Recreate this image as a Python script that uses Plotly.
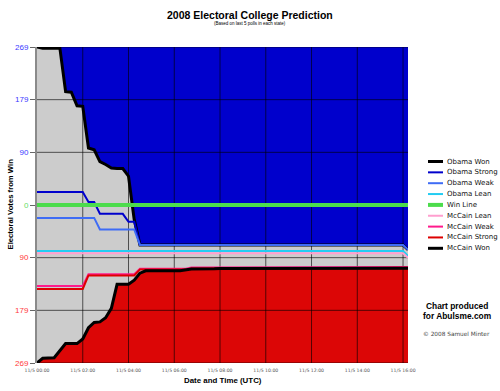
import plotly.graph_objects as go

DAY = "2008-11-05 "

# ---- data (electoral votes from win; Obama side positive, McCain side negative) ----
obama_won_t = ["00:00", "00:15", "01:00", "01:15", "01:30", "01:45", "02:00", "02:15", "02:30",
               "02:45", "03:00", "03:15", "03:30", "03:45", "04:00", "04:15", "04:30", "16:00", "16:13"]
obama_won_v = [269, 267, 267, 193, 192, 169, 168, 97, 94, 74, 69, 63, 62, 62, 49, -25, -68, -68, -76]

obama_strong_t = ["00:00", "02:00", "02:15", "02:30", "02:45", "03:45", "04:00", "04:15", "04:30", "16:00", "16:13"]
obama_strong_v = [22, 22, 5, 5, -15, -15, -28.5, -28.5, -68, -68, -76]

obama_weak_t = ["00:00", "02:30", "02:45", "04:15", "04:30", "16:00", "16:13"]
obama_weak_v = [-22, -22, -41.5, -41.5, -68, -68, -76]

obama_lean_t = ["00:00", "16:00", "16:13"]
obama_lean_v = [-78.5, -78.5, -86.5]

win_t = ["00:00", "16:13"]
win_v = [0, 0]

mccain_lean_t = ["00:00", "16:00", "16:13"]
mccain_lean_v = [-82, -82, -90]

mccain_weak_t = ["00:00", "02:00", "02:15", "04:15", "04:30", "06:30", "06:45", "16:13"]
mccain_weak_v = [-138, -138, -118, -118, -108.5, -108.5, -106.5, -105.5]

mccain_strong_t = ["00:00", "02:00", "02:15", "04:15", "04:30", "06:30", "06:45", "16:13"]
mccain_strong_v = [-143, -143, -120, -120, -110, -110, -108, -107]

mccain_won_t = ["00:00", "00:15", "00:45", "01:00", "01:15", "01:45", "02:00", "02:15", "02:30", "02:45",
                "03:00", "03:15", "03:30", "04:00", "04:15", "04:30", "04:45", "06:15", "06:30", "06:45",
                "07:45", "08:00", "16:13"]
mccain_won_v = [-269, -261, -260, -248, -236, -236, -228, -209, -200, -199,
                -192, -176, -135, -135, -128, -116, -112, -112, -111, -109,
                -108.5, -108, -107.5]

x_tick_times = ["00:00", "02:00", "04:00", "06:00", "08:00", "10:00", "12:00", "14:00", "16:00"]
x_tick_labels = ["11/5 00:00", "11/5 02:00", "11/5 04:00", "11/5 06:00", "11/5 08:00",
                 "11/5 10:00", "11/5 12:00", "11/5 14:00", "11/5 16:00"]
y_tick_vals = [269, 269 * 2 / 3, 269 / 3, 0, -269 / 3, -269 * 2 / 3, -269]
y_tick_labels = ["269", "179", "90", "0", "90", "179", "269"]
y_tick_colors = ["#3a3aff", "#3a3aff", "#3a3aff", "#66dd66", "#ff3a3a", "#ff3a3a", "#ff3a3a"]

series = [
    ("Obama Won", obama_won_t, obama_won_v, "#000000", 3),
    ("Obama Strong", obama_strong_t, obama_strong_v, "#0000cc", 2),
    ("Obama Weak", obama_weak_t, obama_weak_v, "#3f6cf5", 2),
    ("Obama Lean", obama_lean_t, obama_lean_v, "#22ccf2", 2),
    ("Win Line", win_t, win_v, "#4cdc4c", 4),
    ("McCain Lean", mccain_lean_t, mccain_lean_v, "#ff9fcf", 2),
    ("McCain Weak", mccain_weak_t, mccain_weak_v, "#ff1a8c", 2),
    ("McCain Strong", mccain_strong_t, mccain_strong_v, "#dd0000", 2),
    ("McCain Won", mccain_won_t, mccain_won_v, "#000000", 3),
]

X_START = DAY + "00:00"
X_END = DAY + "16:13"
Y_TOP = 269
Y_BOT = -269

def ts(lst):
    return [DAY + t for t in lst]

fig = go.Figure()

# ---- fills ----
fig.add_trace(go.Scatter(x=[X_START, X_END], y=[Y_TOP, Y_TOP], mode="lines",
                         line=dict(width=0), showlegend=False, hoverinfo="skip"))
fig.add_trace(go.Scatter(x=ts(obama_won_t), y=obama_won_v, mode="lines", fill="tonexty",
                         fillcolor="#0000cc", line=dict(width=0), showlegend=False, hoverinfo="skip"))
fig.add_trace(go.Scatter(x=[X_START, X_END], y=[Y_BOT, Y_BOT], mode="lines",
                         line=dict(width=0), showlegend=False, hoverinfo="skip"))
fig.add_trace(go.Scatter(x=ts(mccain_won_t), y=mccain_won_v, mode="lines", fill="tonexty",
                         fillcolor="#dc0606", line=dict(width=0), showlegend=False, hoverinfo="skip"))

# ---- gridlines (above fills, below data lines) ----
gx, gy = [], []
for t in x_tick_times[1:]:
    gx += [DAY + t, DAY + t, None]
    gy += [Y_BOT, Y_TOP, None]
for v in y_tick_vals:
    if v == 0:
        continue
    gx += [X_START, X_END, None]
    gy += [v, v, None]
fig.add_trace(go.Scatter(x=gx, y=gy, mode="lines", line=dict(color="rgba(0,0,0,0.62)", width=1),
                         showlegend=False, hoverinfo="skip"))

# ---- data lines ----
for name, t, v, col, w in series:
    fig.add_trace(go.Scatter(x=ts(t), y=v, mode="lines", name=name,
                             line=dict(color=col, width=w), showlegend=False))

# ---- layout ----
ML, MR, MT, MB = 37, 92, 47, 28
W, H = 500, 391
PW, PH = W - ML - MR, H - MT - MB

def px_x(px):
    return (px - ML) / PW

def px_y(py):
    return (H - MB - py) / PH

ann = []
ann.append(dict(text="<b>2008 Electoral College Prediction</b>", x=px_x(250), y=px_y(15),
                xref="paper", yref="paper", showarrow=False, xanchor="center", yanchor="middle",
                font=dict(family="Liberation Sans", size=10.5, color="#000")))
ann.append(dict(text="(Based on last 5 polls in each state)", x=px_x(250), y=px_y(23.3),
                xref="paper", yref="paper", showarrow=False, xanchor="center", yanchor="middle",
                font=dict(family="Liberation Sans", size=4.5, color="#000")))
ann.append(dict(text="<b>Electoral Votes from Win</b>", x=px_x(10), y=px_y(204.5),
                xref="paper", yref="paper", showarrow=False, xanchor="center", yanchor="middle",
                textangle=-90, font=dict(family="Liberation Sans", size=7.7, color="#000")))
ann.append(dict(text="<b>Date and Time (UTC)</b>", x=px_x(223), y=px_y(380),
                xref="paper", yref="paper", showarrow=False, xanchor="center", yanchor="middle",
                font=dict(family="Liberation Sans", size=7.9, color="#000")))
ann.append(dict(text="<b>Chart produced</b>", x=px_x(456.7), y=px_y(306),
                xref="paper", yref="paper", showarrow=False, xanchor="center", yanchor="middle",
                font=dict(family="Liberation Sans", size=8.4, color="#000")))
ann.append(dict(text="<b>for Abulsme.com</b>", x=px_x(456.7), y=px_y(315.7),
                xref="paper", yref="paper", showarrow=False, xanchor="center", yanchor="middle",
                font=dict(family="Liberation Sans", size=8.4, color="#000")))
ann.append(dict(text="© 2008 Samuel Minter", x=px_x(456.7), y=px_y(333.7),
                xref="paper", yref="paper", showarrow=False, xanchor="center", yanchor="middle",
                font=dict(family="DejaVu Sans", size=5.8, color="#444")))

shapes = []
for i, (name, t, v, col, w) in enumerate(series):
    py = 161.5 + i * 10.85
    shapes.append(dict(type="line", xref="paper", yref="paper", x0=px_x(428), x1=px_x(443),
                       y0=px_y(py), y1=px_y(py), line=dict(color=col, width=w)))
    ann.append(dict(text=name, x=px_x(445), y=px_y(py), xref="paper", yref="paper",
                    showarrow=False, xanchor="left", yanchor="middle",
                    font=dict(family="DejaVu Sans", size=7, color="#111")))

y_ticktext = ['<span style="color:%s">%s</span>' % (c, l) for c, l in zip(y_tick_colors, y_tick_labels)]

fig.update_layout(
    width=W, height=H, autosize=False,
    margin=dict(l=ML, r=MR, t=MT, b=MB, pad=0),
    paper_bgcolor="#ffffff", plot_bgcolor="#cccccc",
    showlegend=False, hovermode=False,
    annotations=ann, shapes=shapes,
    xaxis=dict(type="date", range=[X_START, X_END], tickvals=ts(x_tick_times), ticktext=x_tick_labels,
               showgrid=False, zeroline=False, showline=False, ticks="outside", ticklen=2,
               tickcolor="rgba(0,0,0,0)", tickfont=dict(family="DejaVu Sans", size=4.6, color="#555")),
    yaxis=dict(range=[Y_BOT, Y_TOP], tickvals=y_tick_vals, ticktext=y_ticktext,
               showgrid=False, zeroline=False, showline=True, linecolor="#8a8a8a", linewidth=2,
               ticks="outside", ticklen=5, tickcolor="#666", tickwidth=1,
               tickfont=dict(family="Liberation Sans", size=8, color="#333")),
)

fig.write_html("out.html", config={"displayModeBar": False},
               post_script="document.body.style.margin='0';document.body.style.padding='0';")
